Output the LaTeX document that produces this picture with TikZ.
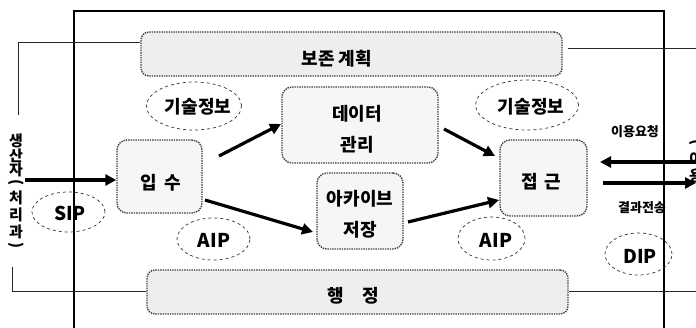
\documentclass[tikz,border=0pt]{standalone}
\usepackage{fontspec}
\setmainfont{Noto Sans CJK KR}
\usetikzlibrary{shapes.geometric,arrows.meta}
\tikzset{
  procbox/.style={draw=black!75, densely dotted, line width=1.4pt, fill=gray!7, rounded corners=10pt, inner sep=0pt},
  bandbox/.style={draw=black!75, densely dotted, line width=1.4pt, fill=gray!13, rounded corners=8pt, inner sep=0pt},
  infoell/.style={draw=black!80, dashed, line width=0.7pt, ellipse, inner sep=0pt},
  flow/.style={line width=3.2pt, -{Triangle[length=11pt,width=11pt]}},
  frame/.style={line width=1.1pt, black},
  conn/.style={line width=1pt, black!85},
  lbl/.style={font=\fontsize{18}{31}\selectfont\bfseries, inner sep=0pt},
  vch/.style={font=\fontsize{15}{16}\selectfont\bfseries, inner sep=0pt},
  small/.style={font=\fontsize{13}{14}\selectfont\bfseries, inner sep=0pt},
  lat/.style={font=\fontsize{19}{20}\selectfont\bfseries, inner sep=0pt},
}
\begin{document}
\begin{tikzpicture}[x=1pt,y=-1pt]
\useasboundingbox (0,0) rectangle (696,328);
\clip (0,0) rectangle (696,328);
\fill[white] (0,0) rectangle (696,328);
% outer frame
\coordinate (ftl) at (74,11);
\coordinate (ftr) at (664,11);
\coordinate (fbl) at (74,328);
\coordinate (fbr) at (664,328);
\draw[frame] (fbl) -- (ftl) -- (ftr) -- (fbr);
% bands
\node[bandbox, minimum width=421pt, minimum height=44pt] (plan) at (351.5,54) {};
\node[lbl] (plantxt) at (337,59) {보존\hspace{4pt}계획};
\node[bandbox, minimum width=421pt, minimum height=44pt] (admin) at (357.5,292) {};
\node[lbl] (admintxt) at (353,296) {행\hspace{18pt}정};
% connectors from bands
\coordinate (pl1) at (18,43);
\coordinate (pl2) at (18,115);
\coordinate (pr) at (696,49);
\draw[conn] (plan.west |- pl1) -- (pl1) -- (pl2);
\draw[conn] ([xshift=5pt]plan.east |- pr) -- (pr);
\coordinate (al1) at (12,292);
\coordinate (al2) at (12,267);
\coordinate (ar) at (696,292);
\draw[conn] (admin.west) -- (al1) -- (al2);
\draw[conn] (admin.east) -- (ar);
% process boxes
\node[procbox, minimum width=85pt, minimum height=73pt] (ingest) at (159.5,176.5) {};
\node[lbl] (ingesttxt) at (161,183) {입\hspace{8pt}수};
\node[procbox, minimum width=156pt, minimum height=76pt] (data) at (360,125) {};
\node[lbl, align=center] (datatxt) at (357,129) {데이터\\관리};
\node[procbox, minimum width=86pt, minimum height=76pt] (store) at (360,211) {};
\node[lbl, align=center] (storetxt) at (360,214) {아카이브\\저장};
\node[procbox, minimum width=87pt, minimum height=76pt] (access) at (543.5,178) {};
\node[lbl] (accesstxt) at (541,182) {접\hspace{6pt}근};
% ellipses
\node[infoell, minimum width=95pt, minimum height=48pt] (ti1) at (194,106) {};
\node[lbl] (ti1txt) at (198,107) {기술정보};
\node[infoell, minimum width=103pt, minimum height=50pt] (ti2) at (527,105) {};
\node[lbl] (ti2txt) at (531,107) {기술정보};
\node[infoell, minimum width=73pt, minimum height=40pt] (sip) at (68.5,212) {};
\node[lat] (siptxt) at (70,213) {SIP};
\node[infoell, minimum width=73pt, minimum height=42pt] (aip1) at (213.5,239) {};
\node[lat] (aip1txt) at (214,240) {AIP};
\node[infoell, minimum width=67pt, minimum height=43pt] (aip2) at (491.5,238.5) {};
\node[lat] (aip2txt) at (496,240) {AIP};
\node[infoell, minimum width=67pt, minimum height=42pt] (dip) at (638.5,254) {};
\node[lat] (diptxt) at (640,256) {DIP};
% producer (vertical)
\node[vch] (p1) at (16,141) {생};
\node[vch] (p2) at (16,156) {산};
\node[vch] (p3) at (16,170) {자};
\node[vch] (p4) at (16,183) {\rotatebox{-90}{(}};
\node[vch] (p5) at (16,198) {처};
\node[vch] (p6) at (16,215) {리};
\node[vch] (p7) at (16,232) {과};
\node[vch] (p8) at (16,246) {\rotatebox{-90}{)}};
% consumer (cut off at right edge)
\node[vch, anchor=west] (c1) at (689,143) {\rotatebox{-90}{(}};
\node[vch, anchor=west] (c2) at (689,159) {이};
\node[vch, anchor=west] (c3) at (689,176) {용};
% flows
\coordinate (pa) at (25,180);
\draw[flow] (pa) -- (ingest.west |- pa);
\coordinate (f1s) at (219,156);
\coordinate (f1e) at (281,124);
\draw[flow] (f1s) -- (f1e);
\coordinate (f2s) at (205,200);
\coordinate (f2e) at (313,232);
\draw[flow] (f2s) -- (f2e);
\coordinate (f3s) at (444,129);
\coordinate (f3e) at (495,156);
\draw[flow] (f3s) -- (f3e);
\coordinate (f4s) at (408,222);
\coordinate (f4e) at (499,200);
\draw[flow] (f4s) -- (f4e);
\coordinate (ur) at (696,162);
\coordinate (ul) at (600,162);
\coordinate (rl) at (603,183);
\coordinate (rr) at (696,183);
\draw[flow] (ur) -- (ul);
\draw[flow] (rl) -- (rr);
\node[small] (req) at (635,132) {이용요청};
\node[small] (res) at (642,208) {결과전송};
\end{tikzpicture}
\end{document}
